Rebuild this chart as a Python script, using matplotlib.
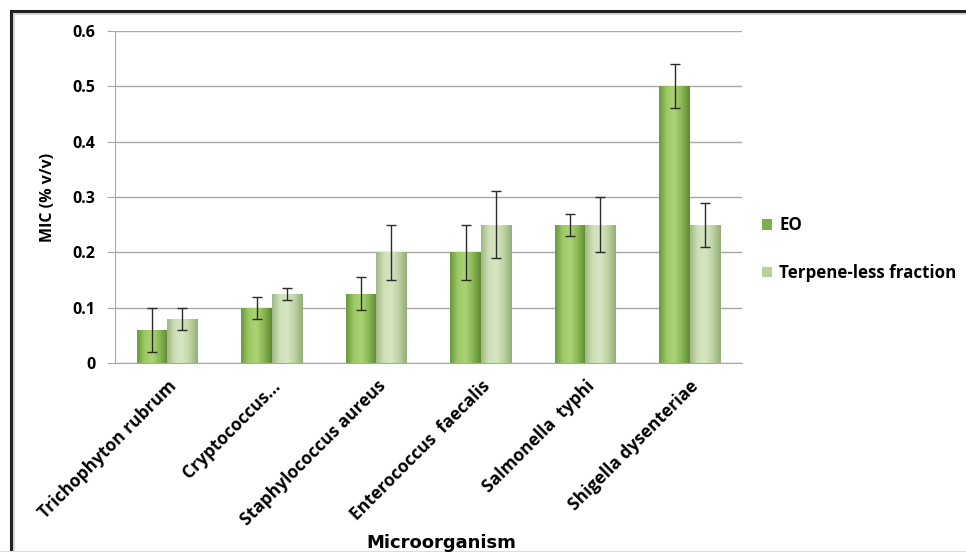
import matplotlib
matplotlib.use("Agg")
import matplotlib.pyplot as plt
import numpy as np
from matplotlib.colors import LinearSegmentedColormap
from matplotlib.patches import Patch

categories = ["Trichophyton rubrum", "Cryptococcus...", "Staphylococcus aureus",
              "Enterococcus  faecalis", "Salmonella  typhi", "Shigella dysenteriae"]
eo_values = [0.06, 0.10, 0.125, 0.20, 0.25, 0.50]
eo_errors = [0.04, 0.02, 0.03, 0.05, 0.02, 0.04]
tl_values = [0.08, 0.125, 0.20, 0.25, 0.25, 0.25]
tl_errors = [0.02, 0.011, 0.05, 0.06, 0.05, 0.04]
series_names = ["EO", "Terpene-less fraction"]
yticks = [0, 0.1, 0.2, 0.3, 0.4, 0.5, 0.6]

FONT = "Open Sans"
W, H = 966, 552
fig = plt.figure(figsize=(W / 100, H / 100), dpi=100)
ax = fig.add_axes([115 / W, 1 - 363 / H, (742 - 115) / W, (363 - 31) / H])

x = np.arange(len(categories))
bw = 0.29

eo_cmap = LinearSegmentedColormap.from_list("eo", ["#6a9a3a", "#9ec966", "#acd374", "#88b652", "#5e8a32"])
tl_cmap = LinearSegmentedColormap.from_list("tl", ["#9fb884", "#cfe0b8", "#d6e5c2", "#bdd2a2", "#93ad78"])

def grad_bars(xs, vals, cmap, face):
    bars = ax.bar(xs, vals, width=bw, color=face, edgecolor="none", zorder=2)
    grad = np.linspace(0, 1, 64).reshape(1, -1)
    for b in bars:
        x0, y0 = b.get_x(), b.get_y()
        w, h = b.get_width(), b.get_height()
        im = ax.imshow(grad, cmap=cmap, aspect="auto",
                       extent=[x0, x0 + w, y0, y0 + h], zorder=2.5, interpolation="bicubic")
        im.set_clip_path(b)
    return bars

grad_bars(x - bw / 2, eo_values, eo_cmap, "#8cbc58")
grad_bars(x + bw / 2, tl_values, tl_cmap, "#c5d9ab")
ax.errorbar(x - bw / 2, eo_values, yerr=eo_errors, fmt="none", ecolor="#2a2a2a",
            elinewidth=1.0, capsize=3.5, capthick=1.0, zorder=4)
ax.errorbar(x + bw / 2, tl_values, yerr=tl_errors, fmt="none", ecolor="#2a2a2a",
            elinewidth=1.0, capsize=3.5, capthick=1.0, zorder=4)

ax.set_xlim(-0.5, len(categories) - 0.5)
ax.set_ylim(0, 0.6)
ax.set_yticks(yticks)
ax.set_yticklabels(["0" if v == 0 else f"{v:.1f}" for v in yticks],
                   fontsize=11.5, fontweight="bold", family=FONT)
ax.yaxis.grid(True, color="#a8a8a8", linewidth=1.0, zorder=0)
ax.set_axisbelow(True)
ax.tick_params(axis="y", length=6, color="#a8a8a8", pad=8)
ax.set_xticks(x)
ax.set_xticklabels(categories, rotation=45, ha="right", rotation_mode="anchor",
                   fontsize=12.5, fontweight="bold", family=FONT)
ax.tick_params(axis="x", length=0, pad=10)
for s in ["top", "right"]:
    ax.spines[s].set_visible(False)
ax.spines["left"].set_color("#a8a8a8")
ax.spines["bottom"].set_color("#a8a8a8")

ax.set_ylabel("MIC (% v/v)", fontsize=11.5, fontweight="bold", family=FONT, labelpad=12)
fig.text(441 / W, 1 - 543 / H, "Microorganism", fontsize=13, fontweight="bold",
         family="DejaVu Sans", ha="center", va="center")

handles = [Patch(facecolor="#7fae4c", edgecolor="none"),
           Patch(facecolor="#b9cf9c", edgecolor="none")]
leg = fig.legend(handles, series_names, loc="upper left",
                 bbox_to_anchor=(747 / W, 1 - 201 / H), frameon=False,
                 handlelength=0.6, handleheight=0.6, handletextpad=0.4,
                 labelspacing=1.75, prop={"family": FONT, "weight": "bold", "size": 12.2})

# outer frame
fig.add_artist(plt.Line2D([11 / W, 1], [1 - 11 / H, 1 - 11 / H], color="#222222", lw=2.2))
fig.add_artist(plt.Line2D([11 / W, 11 / W], [0, 1 - 11 / H], color="#222222", lw=2.2))
fig.add_artist(plt.Line2D([14 / W, 1], [1 - 14 / H, 1 - 14 / H], color="#cccccc", lw=1.2))
fig.add_artist(plt.Line2D([14 / W, 14 / W], [0, 1 - 14 / H], color="#cccccc", lw=1.2))
fig.add_artist(plt.Line2D([0, 1], [0.5 / H, 0.5 / H], color="#dddddd", lw=1.5))

fig.savefig("out.png", dpi=100)
